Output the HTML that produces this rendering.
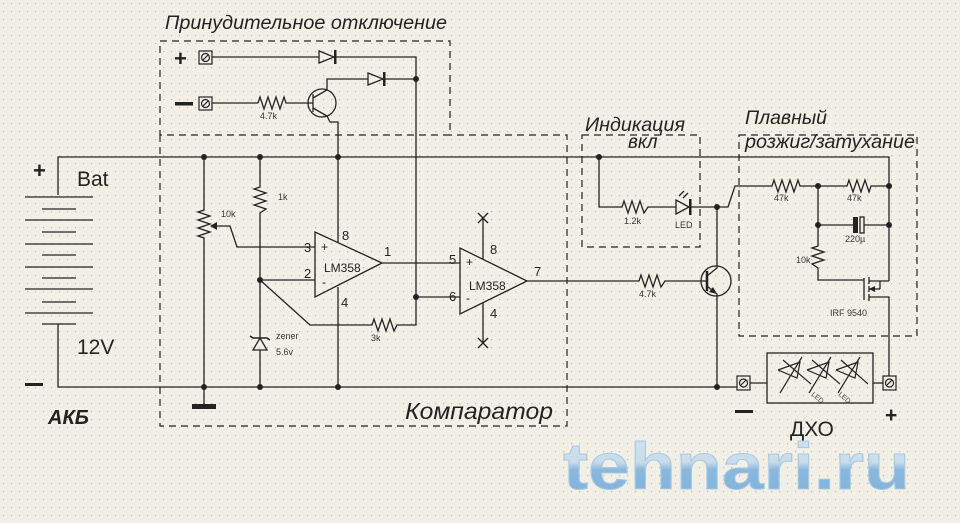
<!DOCTYPE html>
<html><head><meta charset="utf-8"><style>
html,body{margin:0;padding:0;background:#f2f0e6}
svg{display:block}
text{font-family:"Liberation Sans",sans-serif}
</style></head><body>
<svg width="960" height="523" viewBox="0 0 960 523" xmlns="http://www.w3.org/2000/svg">
<defs>
<pattern id="g" width="8" height="8" patternUnits="userSpaceOnUse"><rect x="3" y="3" width="1.2" height="1.2" fill="#b9b8ae"/></pattern>
<linearGradient id="wm" x1="0" y1="0" x2="0" y2="1"><stop offset="0" stop-color="#d3e3ee"/><stop offset="0.45" stop-color="#c8dcea"/><stop offset="0.55" stop-color="#8ab8dd"/><stop offset="1" stop-color="#80b2dc"/></linearGradient>
</defs>
<rect width="960" height="523" fill="#f2f0e6"/>
<rect width="960" height="523" fill="url(#g)"/>

<!-- dashed boxes -->
<g fill="none" stroke="#222" stroke-width="1.2" stroke-dasharray="7,5">
<rect x="160" y="41" width="290" height="94"/>
<polyline points="160,135 160,426 567,426 567,135 450,135"/>
<rect x="582" y="135" width="118" height="112"/>
<rect x="739" y="135" width="178" height="201"/>
</g>

<g fill="none" stroke="#222" stroke-width="1.3">
<polyline points="58,195 58,157 889,157 889,281"/>
<polyline points="58,324 58,387 737,387"/>
<line x1="25" y1="197" x2="93" y2="197"/><line x1="42" y1="209" x2="76" y2="209"/>
<line x1="25" y1="220" x2="93" y2="220"/><line x1="42" y1="232" x2="76" y2="232"/>
<line x1="25" y1="244" x2="93" y2="244"/><line x1="42" y1="255" x2="76" y2="255"/>
<line x1="25" y1="267" x2="93" y2="267"/><line x1="42" y1="278" x2="76" y2="278"/>
<line x1="25" y1="289" x2="93" y2="289"/><line x1="42" y1="302" x2="76" y2="302"/>
<line x1="25" y1="313" x2="93" y2="313"/><line x1="42" y1="324" x2="76" y2="324"/>

<line x1="212" y1="57" x2="319" y2="57"/>
<polyline points="335,57 416,57 416,297"/>
<line x1="212" y1="103" x2="258" y2="103"/>
<polyline points="258,103 260,97 264,109 268,97 272,109 276,97 280,109 284,97 286,103 313,103"/>
<circle cx="322" cy="103" r="14"/>
<line x1="313" y1="94" x2="313" y2="112"/>
<polyline points="313,98 327,90 327,79 368,79"/>
<line x1="384" y1="79" x2="416" y2="79"/>
<polyline points="313,108 327,116 330,122 338,122 338,243"/>

<polyline points="204,157 204,210 198,212 210,216 198,220 210,224 198,228 210,232 198,236 204,238 204,405"/>
<polyline points="216,226 230,226 237,247 315,247"/>
<polyline points="260,157 260,187 254,189 266,193 254,197 266,201 254,205 266,209 260,213 260,338"/>
<line x1="260" y1="350" x2="260" y2="387"/>
<line x1="260" y1="280" x2="315" y2="280"/>
<polyline points="260,280 310,325 372,325 374,319 378,331 382,319 386,331 390,319 394,331 397,325 416,325 416,297 460,297"/>

<polygon points="315,232 315,297 382,263"/>
<line x1="338" y1="287" x2="338" y2="387"/>
<line x1="382" y1="263" x2="460" y2="263"/>
<polygon points="460,248 460,314 527,281"/>
<line x1="483" y1="259" x2="483" y2="218"/>
<line x1="483" y1="303" x2="483" y2="343"/>
<line x1="478" y1="213" x2="488" y2="223"/><line x1="488" y1="213" x2="478" y2="223"/>
<line x1="478" y1="338" x2="488" y2="348"/><line x1="488" y1="338" x2="478" y2="348"/>
<polyline points="527,281 639,281 641,275 645,287 649,275 653,287 657,275 661,287 665,281 707,281"/>

<circle cx="716" cy="281" r="15"/>
<line x1="707" y1="271" x2="707" y2="291" stroke-width="2.5"/>
<polyline points="707,276 717,268 717,207"/>
<polyline points="707,286 717,294 717,387"/>

<polyline points="599,157 599,207 622,207 624,201 628,213 632,201 636,213 640,201 644,213 648,207 676,207"/>
<line x1="690" y1="207" x2="717" y2="207"/>
<line x1="690" y1="199" x2="690" y2="215"/>
<line x1="679" y1="196" x2="684" y2="191"/><line x1="683" y1="198" x2="688" y2="193"/>

<polyline points="717,207 728,207 735,186 772,186 774,180 778,192 782,180 786,192 790,180 794,192 798,180 800,186 847,186 849,180 853,192 857,180 861,192 865,180 869,192 871,186 889,186"/>
<polyline points="818,186 818,225 853,225"/>
<line x1="864" y1="225" x2="889" y2="225"/>
<rect x="860" y="217" width="4" height="16"/>
<polyline points="818,225 818,246 812,248 824,252 812,256 824,260 812,264 818,268 818,280 864,280"/>
<line x1="864" y1="278" x2="864" y2="300"/>
<line x1="869" y1="277" x2="869" y2="284"/><line x1="869" y1="286" x2="869" y2="292"/><line x1="869" y1="294" x2="869" y2="301"/>
<polyline points="869,281 889,281"/>
<polyline points="869,297 889,297 889,376"/>
<polyline points="880,289 869,289"/><line x1="880" y1="289" x2="880" y2="281"/>

<line x1="750" y1="383" x2="767" y2="383"/>
<line x1="873" y1="383" x2="883" y2="383"/>
<rect x="767" y="353" width="106" height="50"/>
</g>

<g fill="#222">
<polygon points="319,51 319,63 334,57" fill="none" stroke="#222" stroke-width="1.3"/>
<rect x="334" y="50" width="2.5" height="14"/>
<polygon points="368,73 368,85 383,79" fill="none" stroke="#222" stroke-width="1.3"/>
<rect x="383" y="72" width="2.5" height="14"/>
<polygon points="676,200 676,214 689,207" fill="none" stroke="#222" stroke-width="1.3"/>
<rect x="689" y="199" width="2.5" height="16"/>
<rect x="853" y="217" width="5" height="16"/>
<polygon points="210,226 217,222 217,230"/>
<polygon points="717,294 709,292 713,287"/>
<polygon points="869,289 875,286 875,292"/>
<polygon points="253,350 267,350 260,338" fill="none" stroke="#222" stroke-width="1.3"/>
<polyline points="250,336 253,338 267,338 270,340" fill="none" stroke="#222" stroke-width="1.6"/>
<rect x="192" y="404" width="24" height="5"/>
<circle cx="204" cy="157" r="3"/><circle cx="260" cy="157" r="3"/><circle cx="338" cy="157" r="3"/>
<circle cx="416" cy="79" r="3"/><circle cx="599" cy="157" r="3"/><circle cx="260" cy="280" r="3"/>
<circle cx="416" cy="297" r="3"/><circle cx="204" cy="387" r="3"/><circle cx="260" cy="387" r="3"/>
<circle cx="338" cy="387" r="3"/><circle cx="717" cy="387" r="3"/><circle cx="717" cy="207" r="3"/>
<circle cx="818" cy="186" r="3"/><circle cx="889" cy="186" r="3"/><circle cx="818" cy="225" r="3"/><circle cx="889" cy="225" r="3"/>
</g>

<g fill="none" stroke="#222" stroke-width="1.2">
<rect x="199" y="51" width="13" height="13"/><circle cx="205.5" cy="57.5" r="4"/><line x1="203" y1="60" x2="208" y2="55"/>
<rect x="199" y="97" width="13" height="13"/><circle cx="205.5" cy="103.5" r="4"/><line x1="203" y1="106" x2="208" y2="101"/>
<rect x="737" y="376" width="13" height="14"/><circle cx="743.5" cy="383" r="4"/><line x1="741" y1="385" x2="746" y2="380"/>
<rect x="883" y="376" width="13" height="14"/><circle cx="889.5" cy="383" r="4"/><line x1="887" y1="385" x2="892" y2="380"/>
<polyline points="778,370 800,362 797,378 778,370"/><line x1="802" y1="357" x2="780" y2="393"/><line x1="783" y1="360" x2="811" y2="384"/>
<polyline points="807,370 829,362 826,378 807,370"/><line x1="831" y1="357" x2="809" y2="393"/><line x1="812" y1="360" x2="840" y2="384"/>
<polyline points="836,370 858,362 855,378 836,370"/><line x1="860" y1="357" x2="838" y2="393"/><line x1="841" y1="360" x2="868" y2="384"/>
</g>
<g font-size="7" fill="#444"><text x="811" y="395" transform="rotate(40 811 395)">LED</text><text x="838" y="395" transform="rotate(40 838 395)">LED</text></g>

<g fill="#222">
<text x="165" y="29" font-size="19" font-style="italic" textLength="282" lengthAdjust="spacingAndGlyphs">Принудительное отключение</text>
<text x="585" y="131" font-size="19" font-style="italic" textLength="100" lengthAdjust="spacingAndGlyphs">Индикация</text>
<text x="628" y="148" font-size="19" font-style="italic">вкл</text>
<text x="745" y="124" font-size="19" font-style="italic" textLength="82" lengthAdjust="spacingAndGlyphs">Плавный</text>
<text x="745" y="148" font-size="19" font-style="italic" textLength="170" lengthAdjust="spacingAndGlyphs">розжиг/затухание</text>
<text x="405" y="419" font-size="23" font-style="italic" textLength="148" lengthAdjust="spacingAndGlyphs">Компаратор</text>
<text x="77" y="186" font-size="21">Bat</text>
<text x="77" y="354" font-size="21">12V</text>
<text x="48" y="424" font-size="20" font-weight="bold" font-style="italic">АКБ</text>
<text x="790" y="436" font-size="21">ДХО</text>
<text x="33" y="178" font-size="22" font-weight="bold">+</text>
<rect x="25" y="383" width="18" height="3"/>
<text x="174" y="66" font-size="22" font-weight="bold">+</text>
<rect x="175" y="102" width="18" height="3.5"/>
<rect x="735" y="410" width="18" height="3"/>
<text x="885" y="422" font-size="21" font-weight="bold">+</text>
<g font-size="13"><text x="304" y="252">3</text><text x="304" y="278">2</text><text x="342" y="240">8</text><text x="341" y="307">4</text><text x="384" y="256">1</text>
<text x="449" y="264">5</text><text x="449" y="301">6</text><text x="490" y="254">8</text><text x="490" y="318">4</text><text x="534" y="276">7</text></g>
<g font-size="12"><text x="324" y="272">LM358</text><text x="469" y="290">LM358</text><text x="321" y="251">+</text><text x="322" y="286">-</text><text x="466" y="266">+</text><text x="466" y="302">-</text></g>
<g font-size="9" fill="#333"><text x="260" y="119">4.7k</text><text x="221" y="217">10k</text><text x="278" y="200">1k</text><text x="276" y="339">zener</text><text x="276" y="355">5.6v</text>
<text x="371" y="341">3k</text><text x="639" y="297">4.7k</text><text x="624" y="224">1.2k</text><text x="675" y="228">LED</text>
<text x="774" y="201">47k</text><text x="847" y="201">47k</text><text x="845" y="242">220µ</text><text x="796" y="263">10k</text><text x="830" y="316">IRF 9540</text></g>
</g>

<text x="563" y="489" font-size="66" font-weight="bold" textLength="347" lengthAdjust="spacingAndGlyphs" fill="url(#wm)" stroke="#a9c9e0" stroke-width="1" font-family="'DejaVu Sans',sans-serif">tehnari.ru</text>
</svg>
</body></html>
